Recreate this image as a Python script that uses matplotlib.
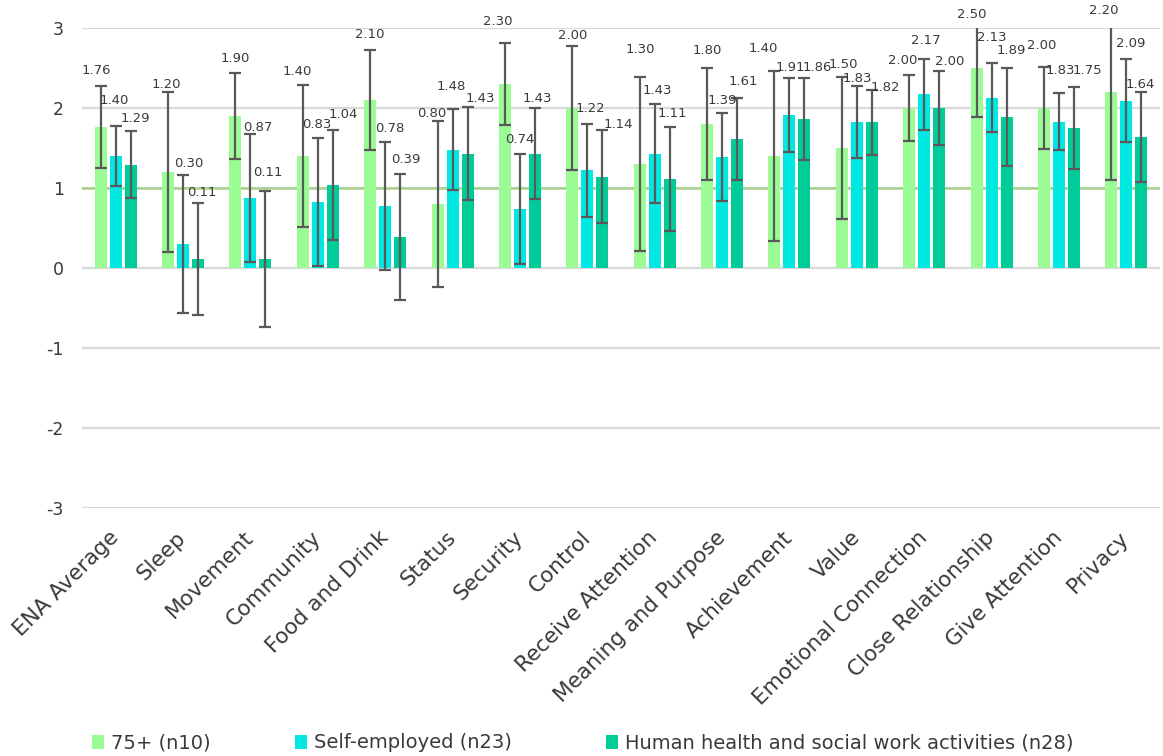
import matplotlib
matplotlib.use("Agg")
import matplotlib.pyplot as plt
import numpy as np

categories = ["ENA Average", "Sleep", "Movement", "Community", "Food and Drink",
              "Status", "Security", "Control", "Receive Attention",
              "Meaning and Purpose", "Achievement", "Value",
              "Emotional Connection", "Close Relationship", "Give Attention",
              "Privacy"]

series_names = ["75+ (n10)", "Self-employed (n23)",
                "Human health and social work activities (n28)"]

vals_75 = [1.76, 1.20, 1.90, 1.40, 2.10, 0.80, 2.30, 2.00, 1.30, 1.80, 1.40,
           1.50, 2.00, 2.50, 2.00, 2.20]
vals_self = [1.40, 0.30, 0.87, 0.83, 0.78, 1.48, 0.74, 1.22, 1.43, 1.39, 1.91,
             1.83, 2.17, 2.13, 1.83, 2.09]
vals_health = [1.29, 0.11, 0.11, 1.04, 0.39, 1.43, 1.43, 1.14, 1.11, 1.61,
               1.86, 1.82, 2.00, 1.89, 1.75, 1.64]

err_75 = [0.51, 1.00, 0.54, 0.89, 0.62, 1.04, 0.51, 0.77, 1.09, 0.70, 1.06,
          0.89, 0.41, 0.61, 0.51, 1.10]
err_self = [0.38, 0.86, 0.80, 0.80, 0.80, 0.51, 0.69, 0.58, 0.62, 0.55, 0.46,
            0.45, 0.44, 0.43, 0.36, 0.52]
err_health = [0.42, 0.70, 0.85, 0.69, 0.79, 0.58, 0.57, 0.58, 0.65, 0.51, 0.51,
              0.41, 0.46, 0.61, 0.51, 0.56]

y_ticks = [-3, -2, -1, 0, 1, 2, 3]
reference_level = 1

# Value-label nudges (pixels right, pixels above the whisker top) so the
# numbers don't collide with neighbouring whiskers.
nudge_75 = [(-4, 16), (-2, 8), (0, 14), (-6, 13), (0, 16), (-6, 7), (-7, 22),
            (0, 11), (1, 27), (0, 17), (-11, 23), (2, 12), (-6, 15), (-5, 14),
            (-2, 22), (-8, 17)]
nudge_self = [(-1, 25), (6, 12), (7, 7), (-1, 13), (5, 13), (-1, 22), (0, 14),
              (3, 15), (3, 14), (0, 12), (1, 11), (0, 7), (2, 19), (0, 26),
              (1, 22), (4, 16)]
nudge_health = [(5, 13), (4, 11), (2, 19), (10, 15), (6, 14), (13, 9), (2, 10),
                (16, 6), (3, 14), (6, 17), (13, 11), (13, 2), (10, 10), (5, 18),
                (13, 17), (-1, 7)]

# Left edge (pixels) of each legend entry along the bottom row
legend_x_px = [92, 295, 606]

colors = ["#9bfc96", "#00e8e2", "#00cc99"]
err_color = "#595959"
text_color = "#3a3a3a"

W, H, DPI = 1163, 756, 100
PX = 72.0 / DPI  # points per pixel

fig = plt.figure(figsize=(W / DPI, H / DPI), dpi=DPI)
ax = fig.add_axes([82 / W, 1 - 508 / H, (1160 - 82) / W, 480 / H])

x = np.arange(len(categories))
bar_w = 0.178
step = 0.223
series = [(vals_75, err_75, nudge_75), (vals_self, err_self, nudge_self),
          (vals_health, err_health, nudge_health)]

ax.set_ylim(y_ticks[0], y_ticks[-1])
ax.set_xlim(-0.5, len(categories) - 0.5)

for yv in y_ticks:
    ax.axhline(yv, color="#d9d9d9", lw=1.6, zorder=0)
ax.axhline(reference_level, color="#a9d18e", lw=1.8, zorder=1)

handles = []
for i, ((vals, errs, nudges), name, c) in enumerate(zip(series, series_names, colors)):
    xs = x + (i - 1) * step
    bars = ax.bar(xs, vals, width=bar_w, color=c, label=name, zorder=2)
    handles.append(bars)
    ax.errorbar(xs, vals, yerr=errs, fmt="none", ecolor=err_color,
                elinewidth=1.6, capsize=4.5, capthick=1.6, zorder=3)
    for xi, v, e, (dx, dy) in zip(xs, vals, errs, nudges):
        top = min(v + e, y_ticks[-1])
        ax.annotate(f"{v:.2f}", (xi, top), xytext=(dx * PX, dy * PX),
                    textcoords="offset points", ha="center", va="center",
                    fontsize=9.5, color=text_color, annotation_clip=False,
                    zorder=4)

for s in ax.spines.values():
    s.set_visible(False)

ax.set_yticks(y_ticks)
ax.set_yticklabels([str(t) for t in y_ticks], fontsize=12.5, color=text_color)
ax.tick_params(axis="y", length=0, pad=13)
ax.set_xticks(x)
ax.set_xticklabels(categories, rotation=45, ha="right", va="center",
                   rotation_mode="anchor", fontsize=15.5, color=text_color)
ax.tick_params(axis="x", length=0, pad=19)

for h, name, lx in zip(handles, series_names, legend_x_px):
    fig.legend([h], [name], loc="center left",
               bbox_to_anchor=(lx / W, 1 - 743 / H), frameon=False,
               borderpad=0, borderaxespad=0, handlelength=0.6,
               handleheight=0.7, handletextpad=0.4,
               prop={"size": 14}, labelcolor=text_color)

fig.savefig("out.png", dpi=DPI)
